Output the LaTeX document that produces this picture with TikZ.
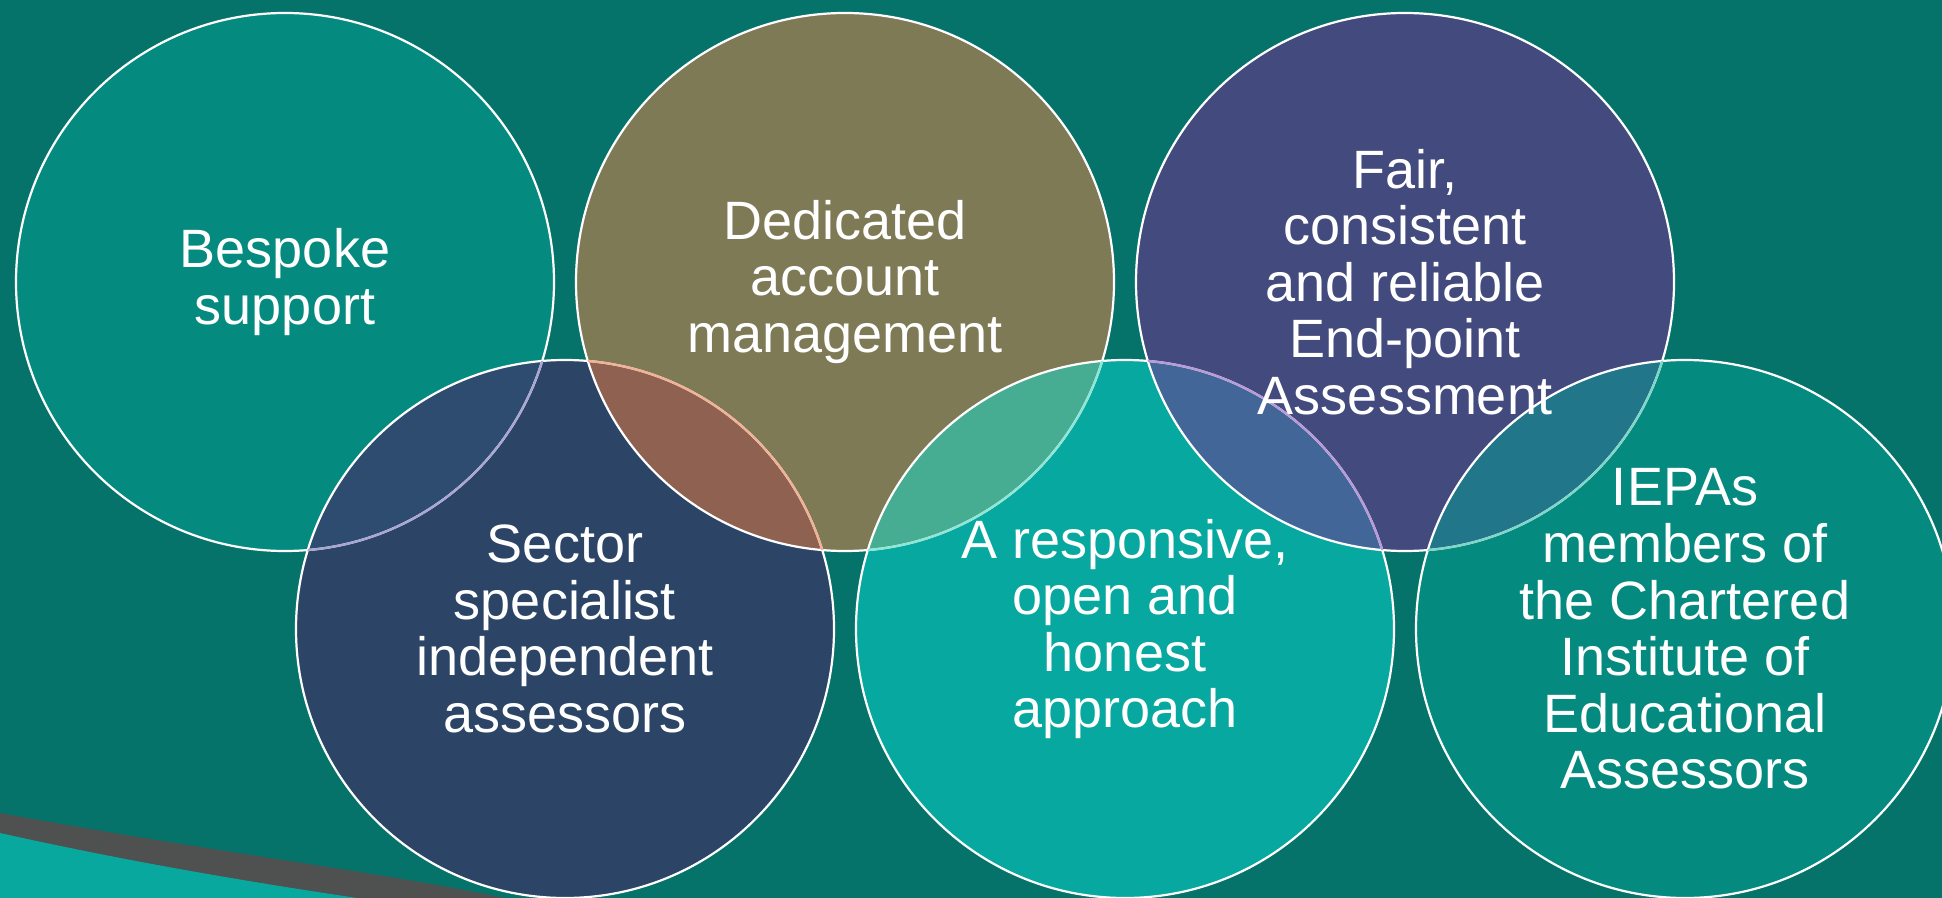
\documentclass[tikz,border=0pt]{standalone}
\usepackage{fontspec}
\setmainfont{Liberation Sans}
\usetikzlibrary{positioning,backgrounds}

\definecolor{bgteal}{HTML}{06736B}
\definecolor{bandgrey}{HTML}{4F5050}
\definecolor{bandteal}{HTML}{08A89E}
\definecolor{cbespoke}{HTML}{058A80}
\definecolor{cdedicated}{HTML}{7E7A55}
\definecolor{cfair}{HTML}{434A7D}
\definecolor{csector}{HTML}{2C4466}
\definecolor{cresponsive}{HTML}{07A89F}
\definecolor{ciepas}{HTML}{058A80}
\definecolor{ovbs}{HTML}{2E4C70}
\definecolor{ovds}{HTML}{8E6150}
\definecolor{ovdr}{HTML}{46AD93}
\definecolor{ovfr}{HTML}{436699}
\definecolor{ovfi}{HTML}{22768A}
\definecolor{lnbs}{HTML}{A9A6D6}
\definecolor{lnds}{HTML}{F2B094}
\definecolor{lndr}{HTML}{8EE6D6}
\definecolor{lnfr}{HTML}{B89AD8}
\definecolor{lnfi}{HTML}{7FD6C8}

\newcommand{\bubrad}{134.5pt}

\begin{document}
\begin{tikzpicture}[x=0.5pt,y=-0.5pt,
				bubble/.style={circle,minimum size=269pt,inner sep=0pt,outer sep=0pt,text=white,align=center,
					font=\fontsize{27pt}{28.3pt}\selectfont},
				rim/.style={line width=1.1pt}]
				\useasboundingbox (0,0) rectangle (1942,898);

				\node[bubble] (bespoke)    at (285,282)                     {Bespoke\\support};
				\node[bubble] (dedicated)  [right=11pt of bespoke]          {Dedicated\\account\\management};
				\node[bubble] (fair)       [right=11pt of dedicated]        {Fair,\\consistent\\and reliable\\End-point\\Assessment};
				\node[bubble] (sector)     at ([shift={(140pt,-173.5pt)}]bespoke) {Sector\\specialist\\independent\\assessors};
				\node[bubble] (responsive) [right=11pt of sector]           {A responsive,\\open and\\honest\\approach};
				\node[bubble] (iepas)      [right=11pt of responsive]       {IEPAs\\members of\\the Chartered\\Institute of\\Educational\\Assessors};

				\begin{scope}[on background layer]
					% background and the band in the lower left corner
					\fill[bgteal] (0,0) rectangle (1942,898);
					\fill[bandgrey] (0,813) .. controls (200,850) and (380,872) .. (505,898) -- (0,898) -- cycle;
					\fill[bandteal] (0,833) .. controls (130,862) and (250,882) .. (357,898) -- (0,898) -- cycle;

					\fill[cbespoke]    (bespoke.center)    circle (\bubrad);
					\fill[cdedicated]  (dedicated.center)  circle (\bubrad);
					\fill[cfair]       (fair.center)       circle (\bubrad);
					\fill[csector]     (sector.center)     circle (\bubrad);
					\fill[cresponsive] (responsive.center) circle (\bubrad);
					\fill[ciepas]      (iepas.center)      circle (\bubrad);

					% overlaps
					\begin{scope}
						\clip (sector.center) circle (\bubrad);
						\fill[ovbs] (bespoke.center) circle (\bubrad);
						\fill[ovds] (dedicated.center) circle (\bubrad);
					\end{scope}
					\begin{scope}
						\clip (responsive.center) circle (\bubrad);
						\fill[ovdr] (dedicated.center) circle (\bubrad);
						\fill[ovfr] (fair.center) circle (\bubrad);
					\end{scope}
					\begin{scope}
						\clip (iepas.center) circle (\bubrad);
						\fill[ovfi] (fair.center) circle (\bubrad);
					\end{scope}

					% outlines
					\foreach \n in {bespoke,dedicated,fair,sector,responsive,iepas}
						\draw[rim,white] (\n.center) circle (\bubrad);
					\begin{scope}
						\clip (sector.center) circle (\bubrad);
						\draw[rim,lnbs] (bespoke.center) circle (\bubrad);
					\end{scope}
					\begin{scope}
						\clip (dedicated.center) circle (\bubrad);
						\draw[rim,lnds] (sector.center) circle (\bubrad);
					\end{scope}
					\begin{scope}
						\clip (responsive.center) circle (\bubrad);
						\draw[rim,lndr] (dedicated.center) circle (\bubrad);
					\end{scope}
					\begin{scope}
						\clip (fair.center) circle (\bubrad);
						\draw[rim,lnfr] (responsive.center) circle (\bubrad);
					\end{scope}
					\begin{scope}
						\clip (iepas.center) circle (\bubrad);
						\draw[rim,lnfi] (fair.center) circle (\bubrad);
					\end{scope}
				\end{scope}
			\end{tikzpicture}
\end{document}
